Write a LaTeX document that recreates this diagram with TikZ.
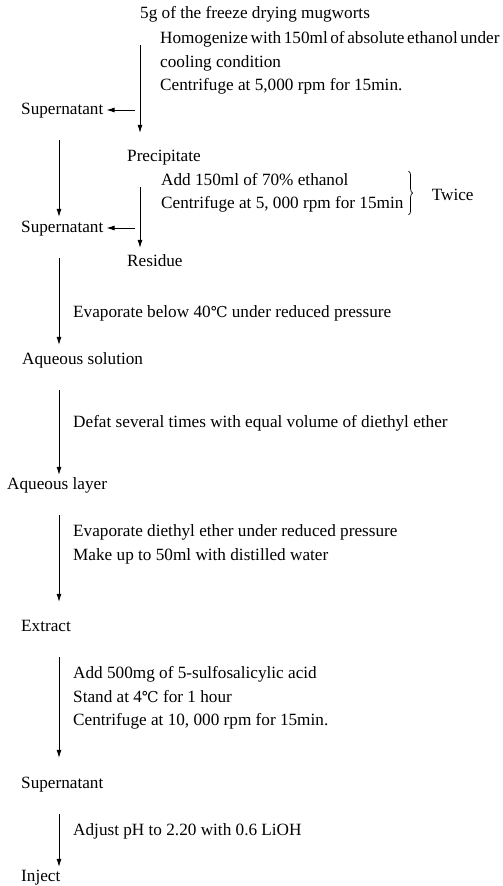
\documentclass[tikz,border=0pt]{standalone}
\usepackage{fontspec}
\setmainfont{Liberation Serif}
\newfontfamily\degfont{DejaVu Serif}
\newcommand\degC{{\degfont\fontsize{15}{23.5}\selectfont ℃}}
\usetikzlibrary{arrows.meta,positioning,decorations.pathreplacing}
\begin{document}
\begin{tikzpicture}
[x=1pt,y=-1pt,
  textDecorate/.style={anchor=west,inner sep=0pt,text height=12pt,text depth=4pt,
    font=\fontsize{17.2}{23.5}\selectfont},
  stepDecorate/.style={anchor=west,inner sep=0pt,align=left,
    font=\fontsize{17.2}{23.5}\selectfont},
  arrowDecorate/.style={-{Latex[length=8pt,width=5pt]},line width=0.8pt,shorten <=22pt}]
\useasboundingbox (0,0) rectangle (503,886);
%% products
\foreach \nodename/\x/\y/\nodetext in {
  start/140/15/{5g of the freeze drying mugworts},
  sup1/21/110/Supernatant, prec/127/157/Precipitate,
  sup2/21/228/Supernatant, resid/127/262/Residue,
  aqsol/22/360/Aqueous solution, aqlay/7/485/Aqueous layer,
  extract/21/627/Extract, sup3/21/784/Supernatant, inject/21/877/Inject}
{
  \node (\nodename) at (\x,\y) [textDecorate] {\nodetext};
}
%% treatments
\node (homog) at (160,63) [stepDecorate] {{\spaceskip=0.15em Homogenize with 150ml of absolute ethanol under}\\
  cooling condition\\Centrifuge at 5,000 rpm for 15min.};
\node (wash) at (161,193) [stepDecorate] {Add 150ml of 70\% ethanol\\
  Centrifuge at 5, 000 rpm for 15min};
\node (evap) at (73,313) [stepDecorate] {Evaporate below 40\degC{} under reduced pressure};
\node (defat) at (73,423) [stepDecorate] {Defat several times with equal volume of diethyl ether};
\node (makeup) at (73,544.5) [stepDecorate] {Evaporate diethyl ether under reduced pressure\\
  Make up to 50ml with distilled water};
\node (acid) at (73,698) [stepDecorate] {Add 500mg of 5-sulfosalicylic acid\\
  Stand at 4\degC{} for 1 hour\\Centrifuge at 10, 000 rpm for 15min.};
\node (adjust) at (73,831) [stepDecorate] {Adjust pH to 2.20 with 0.6 LiOH};
%% repeat note
\draw[line width=0.7pt,decorate,decoration={brace,amplitude=4pt}]
  ([xshift=5pt,yshift=2pt]wash.north east) -- ([xshift=5pt,yshift=-2pt]wash.south east);
\node (twice) [textDecorate,right=28pt of wash.east,yshift=-3pt] {Twice};
%% flow lines
\coordinate (main) at (140,0);
\coordinate (lane) at (59,0);
\path
\foreach \lanename/\startnode/\endnode/\gap in {
  main/start/prec/16, main/prec/resid/6, lane/sup1/sup2/3, lane/sup2/aqsol/7,
  lane/aqsol/aqlay/2, lane/aqlay/extract/17, lane/extract/sup3/18, lane/sup3/inject/2}
{
  (\lanename |- \startnode.south) edge[arrowDecorate,shorten >=\gap pt] (\lanename |- \endnode.north)
};
\path
\foreach \nodename in {sup1, sup2}
{
  (main |- \nodename.east) edge[arrowDecorate,shorten <=5pt,shorten >=3pt] (\nodename.east)
};
\end{tikzpicture}
\end{document}
